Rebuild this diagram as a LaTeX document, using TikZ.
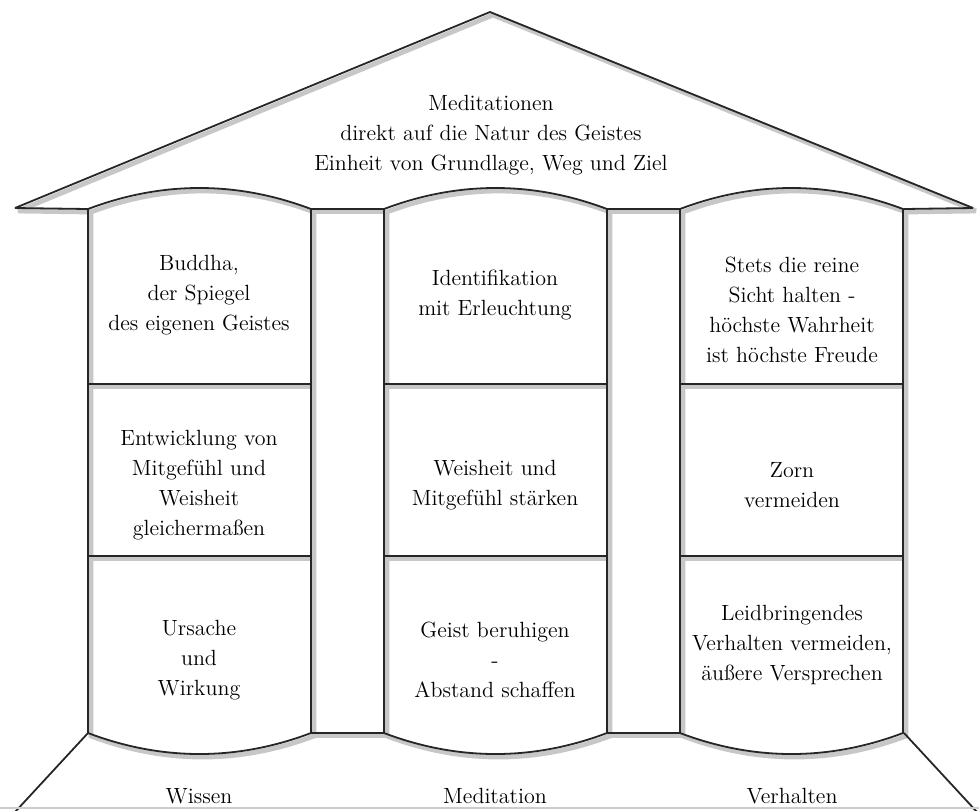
\documentclass[tikz,border=0pt]{standalone}
\usetikzlibrary{positioning}

\begin{document}
\begin{tikzpicture}[x=0.5pt, y=-0.5pt,
  wall/.style={draw=black!85, line width=0.9pt},
  shade/.style={draw=black!22, line width=2.4pt, shift={(3,3)}},
  txt/.style={align=center, inner sep=0pt, font=\rmfamily\fontsize{11}{15}\selectfont}]
\useasboundingbox (0,0) rectangle (979,810);
% white areas
\fill[white] (15,208) -- (490,12) -- (973,208) -- cycle;
\foreach \x in {88,384,680}
  \fill[white] (\x,209) .. controls (\x+74,181) and (\x+149,181) .. (\x+223,209)
    -- (\x+223,733) .. controls (\x+149,761) and (\x+74,761) .. (\x,733) -- cycle;
% shadows
\draw[shade] (15,208) -- (490,12) -- (973,208);
\draw[shade] (15,208) -- (88,209) (904,209) -- (973,208);
\draw[shade] (311,209) rectangle (384,733) (607,209) rectangle (680,733);
\foreach \x in {88,384,680} {
  \draw[shade] (\x,209) .. controls (\x+74,181) and (\x+149,181) .. (\x+223,209)
    -- (\x+223,733) .. controls (\x+149,761) and (\x+74,761) .. (\x,733) -- cycle;
  \draw[shade] (\x,384) -- (\x+223,384) (\x,556) -- (\x+223,556);
}
% roof
\draw[wall, line join=miter] (15,208) -- (490,12) -- (973,208);
\draw[wall] (15,208) -- (88,209) (904,209) -- (973,208);
% gaps between pillars
\draw[wall] (311,209) rectangle (384,733) (607,209) rectangle (680,733);
% pillars
\foreach \x in {88,384,680} {
  \draw[wall] (\x,209) .. controls (\x+74,181) and (\x+149,181) .. (\x+223,209)
    -- (\x+223,733) .. controls (\x+149,761) and (\x+74,761) .. (\x,733) -- cycle;
  \draw[wall] (\x,384) -- (\x+223,384) (\x,556) -- (\x+223,556);
}
% base
\draw[wall] (88,733) -- (15,812) (904,733) -- (977,812);
\draw[black!20, line width=0.6pt] (0,808) -- (979,808);
% texts
\node[txt] (roof) at (491,135) {Meditationen\\direkt auf die Natur des Geistes\\Einheit von Grundlage, Weg und Ziel};
\node[txt] (buddha) at (199,295) {Buddha,\\der Spiegel\\des eigenen Geistes};
\node[txt] (ident) at (495,295) {Identifikation\\mit Erleuchtung};
\node[txt] (sicht) at (792,310) {Stets die reine\\Sicht halten -\\höchste Wahrheit\\ist höchste Freude};
\node[txt] (entw) at (199,485) {Entwicklung von\\Mitgefühl und\\Weisheit\\gleichermaßen};
\node[txt] (weish) at (495,485) {Weisheit und\\Mitgefühl stärken};
\node[txt] (zorn) at (792,485) {Zorn\\vermeiden};
\node[txt] (ursache) at (199,660) {Ursache\\und\\Wirkung};
\node[txt] (geist) at (495,660) {Geist beruhigen\\-\\Abstand schaffen};
\node[txt] (leid) at (792,645) {Leidbringendes\\Verhalten vermeiden,\\äußere Versprechen};
\node[txt, anchor=base] (wissen) at (199,803) {Wissen};
\node[txt, anchor=base] (medit) at (495,803) {Meditation};
\node[txt, anchor=base] (verh) at (792,803) {Verhalten};
\end{tikzpicture}
\end{document}
